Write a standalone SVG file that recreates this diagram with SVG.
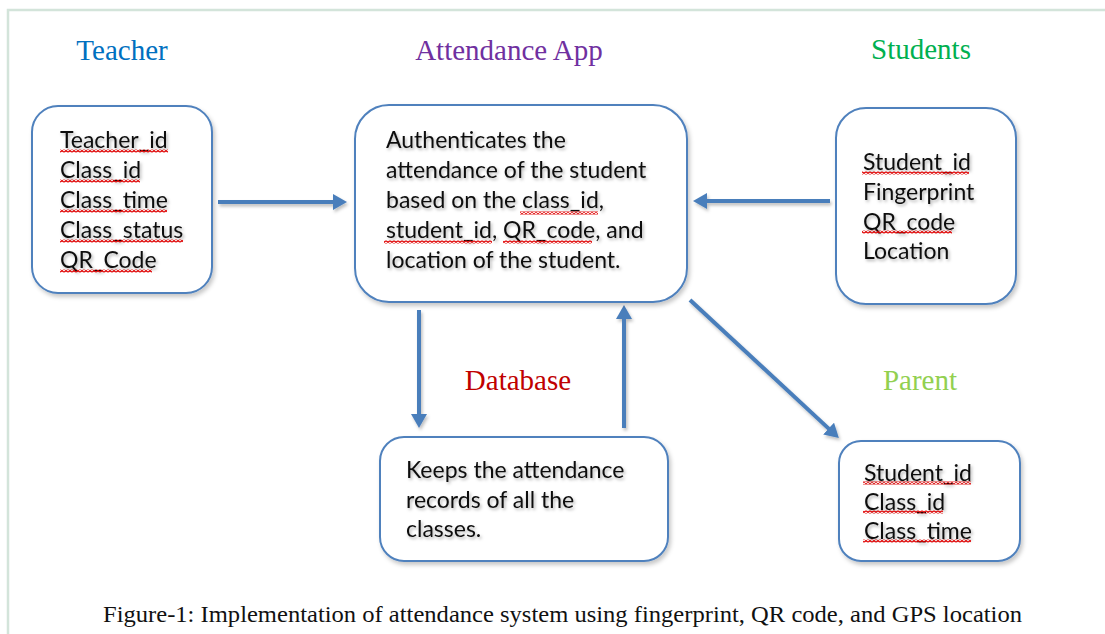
<svg xmlns="http://www.w3.org/2000/svg" width="1105" height="634" viewBox="0 0 1105 634">
<defs>
<style>
.frame{stroke:#d3e4da;stroke-width:2.5;fill:none}
.box{fill:#fff;stroke:#4f81bd;stroke-width:2;filter:url(#bsh)}
.title{font-family:"Liberation Serif","Times New Roman",serif;font-size:29px;text-anchor:middle}
.body{font-family:Lato,"Open Sans",sans-serif;font-size:23px;fill:#111;filter:url(#tsh)}
.cap{font-family:"Liberation Serif","Times New Roman",serif;font-size:24px;fill:#111}
.arrow{stroke:#4a7ebb;stroke-width:4;fill:none;marker-end:url(#ah);filter:url(#ash)}
.sq{fill:url(#zig)}
</style>
<filter id="bsh" x="-10%" y="-10%" width="125%" height="130%">
<feDropShadow dx="2" dy="3" stdDeviation="2" flood-color="#000" flood-opacity="0.22"/>
</filter>
<filter id="tsh" x="-5%" y="-20%" width="115%" height="160%">
<feDropShadow dx="1.5" dy="2" stdDeviation="1.5" flood-color="#000" flood-opacity="0.3"/>
</filter>
<filter id="ash" filterUnits="userSpaceOnUse" x="0" y="0" width="1105" height="634">
<feDropShadow dx="1.5" dy="2.5" stdDeviation="1.5" flood-color="#000" flood-opacity="0.25"/>
</filter>
<marker id="ah" markerUnits="userSpaceOnUse" viewBox="0 0 14 16" markerWidth="14" markerHeight="16" refX="6" refY="8" orient="auto">
<path d="M0,0 L14,8 L0,16 z" fill="#4a7ebb"/>
</marker>
<pattern id="zig" patternUnits="userSpaceOnUse" width="4" height="3">
<path d="M0,2.5 L2,0.5 L4,2.5" stroke="#e00000" stroke-width="1.3" fill="none"/>
</pattern>
</defs>
<rect width="1105" height="634" fill="#fff"/>
<path class="frame" d="M8,634 V10 H1105"/>

<g id="connectors">
<path class="arrow" d="M218,202 H339"/>
<path class="arrow" d="M830,201 H701"/>
<path class="arrow" d="M419,310 V420"/>
<path class="arrow" d="M624,428 V313"/>
<path class="arrow" d="M690,300 L833,432.6"/>
</g>

<g id="teacher">
<text class="title" x="122" y="60" fill="#0070c0">Teacher</text>
<rect class="box" x="32" y="106" width="180" height="187" rx="26"/>
<text class="body" x="60" y="148">Teacher_id</text>
<text class="body" x="60" y="178">Class_id</text>
<text class="body" x="60" y="208">Class_time</text>
<text class="body" x="60" y="238">Class_status</text>
<text class="body" x="60" y="268">QR_Code</text>
<rect class="sq" x="60" y="149.5" width="108" height="3"/>
<rect class="sq" x="60" y="179.5" width="80" height="3"/>
<rect class="sq" x="60" y="209.5" width="107" height="3"/>
<rect class="sq" x="60" y="239.5" width="123" height="3"/>
<rect class="sq" x="60" y="269.5" width="92" height="3"/>
</g>

<g id="app">
<text class="title" x="509" y="60" fill="#7030a0">Attendance App</text>
<rect class="box" x="355" y="105" width="332" height="197" rx="34"/>
<text class="body" x="386" y="148">Authenticates the</text>
<text class="body" x="386" y="178">attendance of the student</text>
<text class="body" x="386" y="208">based on the class_id,</text>
<text class="body" x="386" y="238">student_id, QR_code, and</text>
<text class="body" x="386" y="268">location of the student.</text>
<rect class="sq" x="520" y="211.5" width="78" height="3"/>
<rect class="sq" x="384" y="240.5" width="108" height="3"/>
<rect class="sq" x="503" y="240.5" width="89" height="3"/>
</g>

<g id="students">
<text class="title" x="921" y="59" fill="#00b050">Students</text>
<rect class="box" x="836" y="108" width="180" height="196" rx="30"/>
<text class="body" x="863" y="170">Student_id</text>
<text class="body" x="863" y="200">Fingerprint</text>
<text class="body" x="863" y="230">QR_code</text>
<text class="body" x="863" y="259">Location</text>
<rect class="sq" x="862" y="171.5" width="107" height="3"/>
<rect class="sq" x="862" y="230.5" width="90" height="3"/>
</g>

<g id="database">
<text class="title" x="518" y="390" fill="#c00000">Database</text>
<rect class="box" x="380" y="437" width="288" height="124" rx="24"/>
<text class="body" x="406" y="478">Keeps the attendance</text>
<text class="body" x="406" y="508">records of all the</text>
<text class="body" x="406" y="537">classes.</text>
</g>

<g id="parent">
<text class="title" x="920" y="390" fill="#92d050">Parent</text>
<rect class="box" x="839" y="441" width="181" height="120" rx="22"/>
<text class="body" x="864" y="481">Student_id</text>
<text class="body" x="864" y="510">Class_id</text>
<text class="body" x="864" y="539">Class_time</text>
<rect class="sq" x="863" y="481.5" width="108" height="3"/>
<rect class="sq" x="863" y="510.5" width="80" height="3"/>
<rect class="sq" x="863" y="539.5" width="108" height="3"/>
</g>

<text class="cap" x="103" y="622" textLength="919" lengthAdjust="spacingAndGlyphs">Figure-1: Implementation of attendance system using fingerprint, QR code, and GPS location</text>
</svg>
